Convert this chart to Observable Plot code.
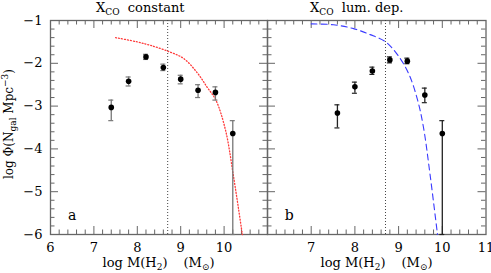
<!DOCTYPE html>
<html><head><meta charset="utf-8">
<script src="https://cdn.jsdelivr.net/npm/d3@7"></script>
<script src="https://cdn.jsdelivr.net/npm/@observablehq/plot@0.6"></script>
<style>
body{margin:0;background:#fff}
#wrap{position:relative;width:491px;height:273px;font-family:"DejaVu Serif";font-size:13px;color:#000;overflow:hidden}
#wrap svg{position:absolute;top:0}
.lbl{position:absolute;white-space:nowrap;line-height:14px}
.lbl sub{font-size:9px;vertical-align:-3px;line-height:0}
.lbl sup{font-size:9px;vertical-align:5px;line-height:0}
</style></head>
<body><div id="wrap"></div>
<script>
// ---- data ----
const titleA = "constant";
const titleB = "lum. dep.";
const panelLabels = ["a", "b"];
const panelLabelX = 6.5, panelLabelY = -5.55;
const xDomain = [6, 11], yDomain = [-6, -1];
const xTicksA = [6, 7, 8, 9, 10];
const xTicksB = [7, 8, 9, 10, 11];
const yTicks = [-1, -2, -3, -4, -5, -6];
const cutA = 8.7, cutB = 8.7;

const xA  = [7.4, 7.8, 8.2, 8.6, 9.0, 9.4, 9.8, 10.2];
const yA  = [-3.03, -2.42, -1.85, -2.10, -2.37, -2.63, -2.68, -3.64];
const hiA = [-2.86, -2.32, -1.79, -2.02, -2.28, -2.50, -2.55, -3.34];
const loA = [-3.34, -2.53, -1.91, -2.17, -2.48, -2.80, -2.86, -6.0];

const xB  = [7.6, 8.0, 8.4, 8.8, 9.2, 9.6, 10.0];
const yB  = [-3.16, -2.55, -2.18, -1.92, -1.95, -2.74, -3.64];
const hiB = [-2.97, -2.44, -2.09, -1.85, -1.88, -2.58, -3.34];
const loB = [-3.51, -2.70, -2.26, -1.99, -2.01, -2.92, -6.0];

const curveAx = [7.5, 8.0, 8.3, 8.71, 9.07, 9.38, 9.61, 9.81, 10.03, 10.22, 10.42];
const curveAy = [-1.40, -1.50, -1.58, -1.72, -1.89, -2.22, -2.56, -2.86, -3.55, -4.66, -6.0];
const curveBx = [7.0, 7.51, 7.97, 8.35, 8.69, 8.96, 9.23, 9.44, 9.57, 9.72, 9.89];
const curveBy = [-1.08, -1.10, -1.19, -1.33, -1.49, -1.78, -2.24, -2.88, -3.5, -4.6, -6.0];

// ---- build ----
const pts = (xs, ys, his, los) => xs.map((x, i) => ({x, y: ys[i], hi: his[i], lo: los[i]}));
const crv = (xs, ys) => xs.map((x, i) => ({x, y: ys[i]}));
const isInt = v => Math.abs(v - Math.round(v)) < 1e-6;
const xMajor = [7, 8, 9, 10];
const yMajor = [-2, -3, -4, -5];
const xMinor = d3.range(1, 25).map(i => 6 + i * 0.2).filter(v => !isInt(v));
const yMinor = d3.range(1, 25).map(i => -6 + i * 0.2).filter(v => !isInt(v));
const axisColor = "#666";
const fmt = d => String(d).replace("-", "\u2212");

function panel(o) {
  const H = 273, mt = 20, mb = 39, pH = H - mt - mb;
  const pW = o.width - o.ml - o.mr;
  return Plot.plot({
    width: o.width, height: H,
    marginTop: mt, marginBottom: mb, marginLeft: o.ml, marginRight: o.mr,
    style: {fontFamily: "DejaVu Serif", fontSize: "13px", background: "transparent", overflow: "visible", color: "#000"},
    x: {domain: xDomain, ticks: o.xTicks, tickFormat: fmt, tickSize: 0, tickPadding: 8, label: null},
    y: o.showY ? {domain: yDomain, ticks: yTicks, tickFormat: fmt, tickSize: 0, tickPadding: 8, label: null}
               : {domain: yDomain, axis: null},
    marks: [
      Plot.ruleX(xMajor, {insetTop: pH - 8, stroke: axisColor}),
      Plot.ruleX(xMajor, {insetBottom: pH - 8, stroke: axisColor}),
      Plot.ruleX(xMinor, {insetTop: pH - 4.5, stroke: axisColor}),
      Plot.ruleX(xMinor, {insetBottom: pH - 4.5, stroke: axisColor}),
      Plot.ruleY(yMajor, {insetRight: pW - 8, stroke: axisColor}),
      Plot.ruleY(yMajor, {insetLeft: pW - 8, stroke: axisColor}),
      Plot.ruleY(yMinor, {insetRight: pW - 4.5, stroke: axisColor}),
      Plot.ruleY(yMinor, {insetLeft: pW - 4.5, stroke: axisColor}),
      Plot.frame({stroke: axisColor, strokeWidth: 1.3}),
      Plot.ruleX([o.cut], {stroke: "#444", strokeDasharray: "1,2"}),
      Plot.line(o.curve, {x: "x", y: "y", stroke: o.curveColor, strokeDasharray: o.dash, strokeWidth: o.sw, curve: "catmull-rom"}),
      Plot.ruleX(o.pts, {x: "x", y1: "lo", y2: "hi", stroke: o.errColor, strokeWidth: 1.3}),
      Plot.ruleY(o.pts, {y: "hi", x1: "x", x2: "x", insetLeft: -2.5, insetRight: -2.5, stroke: o.errColor, strokeWidth: 1.2}),
      Plot.ruleY(o.pts, {y: "lo", x1: "x", x2: "x", insetLeft: -2.5, insetRight: -2.5, stroke: o.errColor, strokeWidth: 1.2}),
      Plot.dot(o.pts, {x: "x", y: "y", r: 2.8, fill: "#000"}),
      Plot.text([o.label], {x: () => panelLabelX, y: () => panelLabelY, text: d => d, fontSize: 14})
    ]
  });
}

const wrap = document.getElementById("wrap");
const svgA = panel({width: 269, ml: 50, mr: 2, xTicks: xTicksA, showY: true, cut: cutA,
  curve: crv(curveAx, curveAy), curveColor: "#ff3a3a", dash: "1,2", sw: 1.3,
  pts: pts(xA, yA, hiA, loA), errColor: "#777", label: panelLabels[0]});
svgA.style.left = "0px";
const svgB = panel({width: 226, ml: 2, mr: 5.5, xTicks: xTicksB, showY: false, cut: cutB,
  curve: crv(curveBx, curveBy), curveColor: "#3a3aff", dash: "6,4", sw: 1.1,
  pts: pts(xB, yB, hiB, loB), errColor: "#222", label: panelLabels[1]});
svgB.style.left = "265px";
wrap.appendChild(svgA);
wrap.appendChild(svgB);

function addLabel(html, css) {
  const d = document.createElement("div");
  d.className = "lbl";
  d.innerHTML = html;
  Object.assign(d.style, css);
  wrap.appendChild(d);
}
addLabel(`X<sub>CO</sub>&nbsp; ${titleA}`, {left: "96px", top: "1px"});
addLabel(`X<sub>CO</sub>&nbsp; ${titleB}`, {left: "310px", top: "1px"});
const xlab = `log M(H<sub>2</sub>)<span style="display:inline-block;width:16px"></span>(M<sub>⊙</sub>)`;
addLabel(xlab, {left: "158.5px", top: "256px", transform: "translateX(-50%)"});
addLabel(xlab, {left: "376.5px", top: "256px", transform: "translateX(-50%)"});
addLabel(`log Φ(N<sub>gal</sub> Mpc<sup>−3</sup>)`, {left: "9px", top: "124px", fontSize: "12px", transform: "translate(-50%,-50%) rotate(-90deg)"});
</script>
</body></html>
